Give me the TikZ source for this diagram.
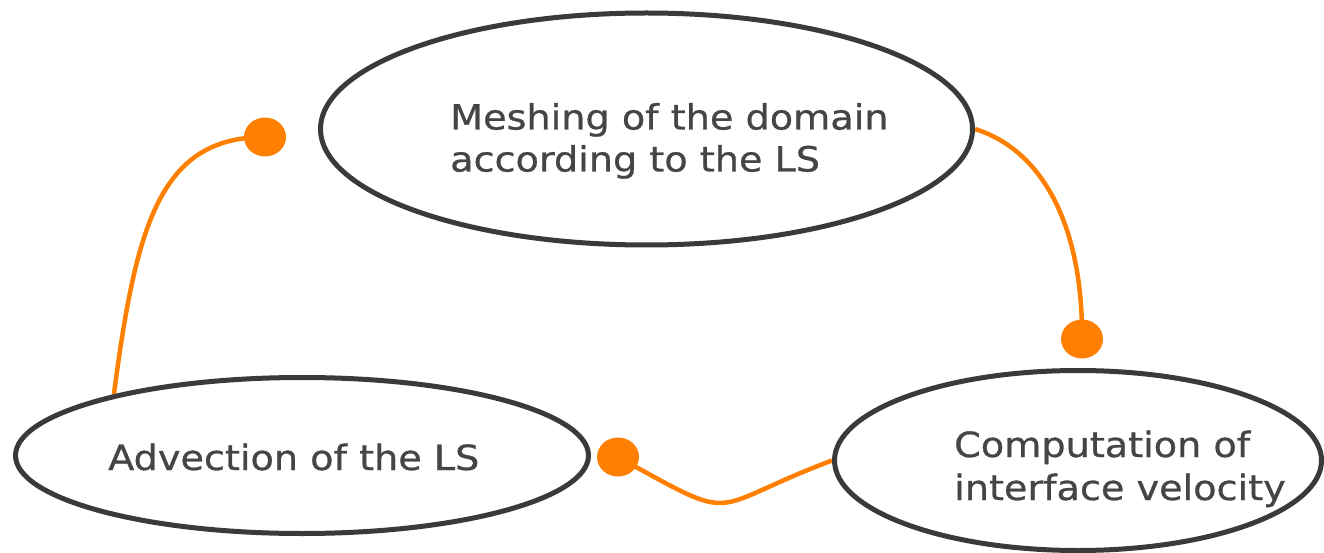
\documentclass[tikz,border=0pt]{standalone}
\usepackage{fontspec}
\newfontfamily\lblfont{DejaVu Sans}[FakeStretch=1.1,FakeBold=0.8]
\usetikzlibrary{shapes.geometric,backgrounds}
\definecolor{strokegray}{HTML}{3A3A3A}
\definecolor{txtgray}{HTML}{454545}
\definecolor{orng}{HTML}{FF8000}
\begin{document}
\begin{tikzpicture}[x=1pt,y=-1pt,
  stepell/.style={draw=strokegray,line width=5pt,ellipse,inner sep=0pt,fill=white},
  lbl/.style={text=txtgray,font=\lblfont\fontsize{34.7}{42}\selectfont,inner sep=0pt,anchor=base west},
  enddot/.style={fill=orng,ellipse,inner sep=0pt,minimum width=42pt,minimum height=39pt},
  conn/.style={draw=orng,line width=4.5pt}]
\useasboundingbox (0,0) rectangle (1324,553);
% process ellipses
\node[stepell,minimum width=652pt,minimum height=232pt] (e1) at (646.5,129) {};
\node[stepell,minimum width=573pt,minimum height=156pt] (e2) at (302,455.5) {};
\node[stepell,minimum width=487pt,minimum height=180pt] (e3) at (1078,460.5) {};
% labels
\node[lbl] (t1) at (450,129.5) {\begin{tabular}[t]{@{}l@{}}Meshing of the domain\\according to the LS\end{tabular}};
\node[lbl] (t2) at (108,470) {Advection of the LS};
\node[lbl,font=\lblfont\fontsize{34.7}{43}\selectfont] (t3) at (954,457) {\begin{tabular}[t]{@{}l@{}}Computation of\\interface velocity\end{tabular}};
% end dots
\node[enddot] (d1) at (1082,339) {};
\node[enddot] (d2) at (618,457) {};
\node[enddot] (d3) at (265,137) {};
% connectors
\begin{pgfonlayer}{background}
\draw[conn] (e1.east) .. controls (1045,151) and (1083,230) .. (d1.center);
\draw[conn] (e3.west) .. controls (703,509) and (743,526) .. (d2.center);
\draw[conn] (e2.162) .. controls (136,225) and (160,137) .. (d3.center);
\end{pgfonlayer}
\end{tikzpicture}
\end{document}
